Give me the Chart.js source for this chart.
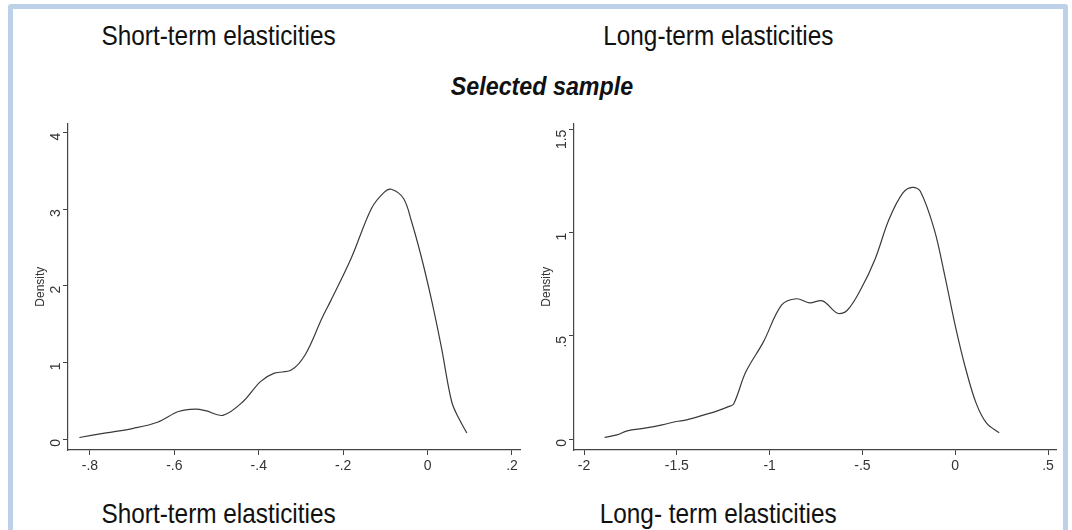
<!DOCTYPE html>
<html>
<head>
<meta charset="utf-8">
<script src="https://cdn.jsdelivr.net/npm/chart.js@4.4.1/dist/chart.umd.min.js"></script>
<style>
  body { margin: 0; width: 1072px; height: 530px; background: #fff; overflow: hidden; position: relative; font-family: "Liberation Sans", Arial, sans-serif; }
  #frame { position: absolute; left: 8px; top: 4px; width: 1050px; height: 540px; border: 5px solid #bcd0e8; border-radius: 3px; background: #fff; }
  .lbl { position: absolute; color: #111; white-space: nowrap; transform-origin: center; }
  .big { font-size: 28px; transform: scaleX(0.87); }
  #sel { font-size: 25px; font-weight: bold; font-style: italic; transform: scaleX(0.93); }
  canvas { position: absolute; }
</style>
</head>
<body>
<div id="frame"></div>
<div class="lbl big" id="t1">Short-term elasticities</div>
<div class="lbl big" id="t2">Long-term elasticities</div>
<div class="lbl" id="sel">Selected sample</div>
<div class="lbl big" id="b1">Short-term elasticities</div>
<div class="lbl big" id="b2">Long- term elasticities</div>
<canvas id="cShort" width="510" height="375" style="left:20px; top:108px;"></canvas>
<canvas id="cLong" width="540" height="375" style="left:526px; top:108px;"></canvas>
<script>
// short-term elasticities: kernel density
var shortX = [-0.825, -0.762, -0.697, -0.64, -0.59, -0.55, -0.526, -0.485, -0.437, -0.396, -0.363, -0.323, -0.29, -0.25, -0.229, -0.181, -0.133, -0.103, -0.086, -0.057, -0.038, -0.014, 0.01, 0.033, 0.057, 0.074, 0.093];
var shortY = [0.02, 0.08, 0.14, 0.22, 0.36, 0.39, 0.37, 0.31, 0.49, 0.75, 0.86, 0.90, 1.10, 1.58, 1.81, 2.36, 3.01, 3.22, 3.26, 3.14, 2.84, 2.36, 1.80, 1.19, 0.49, 0.27, 0.08];
var shortXTicks = [-0.8, -0.6, -0.4, -0.2, 0, 0.2];
var shortYTicks = [0, 1, 2, 3, 4];

// long-term elasticities
var longX = [-1.889, -1.823, -1.767, -1.673, -1.579, -1.504, -1.447, -1.353, -1.278, -1.222, -1.194, -1.128, -1.034, -0.935, -0.855, -0.785, -0.715, -0.634, -0.583, -0.508, -0.432, -0.357, -0.282, -0.23, -0.188, -0.113, -0.056, 0, 0.056, 0.113, 0.169, 0.237];
var longY = [0.008, 0.02, 0.04, 0.053, 0.069, 0.085, 0.093, 0.117, 0.138, 0.157, 0.17, 0.326, 0.47, 0.65, 0.68, 0.66, 0.67, 0.61, 0.623, 0.727, 0.872, 1.064, 1.193, 1.22, 1.201, 1.016, 0.791, 0.55, 0.342, 0.173, 0.077, 0.03];
var longXTicks = [-2, -1.5, -1, -0.5, 0, 0.5];
var longYTicks = [0, 0.5, 1, 1.5];

// place the text labels by their centre
function place(id, cx, cy) {
    var el = document.getElementById(id);
    el.style.left = (cx - el.offsetWidth / 2) + 'px';
    el.style.top = (cy - el.offsetHeight / 2) + 'px';
}
place('t1', 218, 36);
place('t2', 718, 36);
place('sel', 542, 86);
place('b1', 218, 514);
place('b2', 718, 514);

// stata style labels: -.8 instead of -0.8
function fmt(v) {
    var s = String(Math.round(v * 100) / 100);
    return s.replace(/^(-?)0\./, '$1.');
}

function makeChart(id, xs, ys, xTicks, yTicks, xmin, xmax, ymin, ymax) {
    var pts = xs.map(function (x, i) { return { x: x, y: ys[i] }; });
    var ctx = document.getElementById(id).getContext('2d');
    var tickFont = { size: 14, family: 'Liberation Sans' };
    return new Chart(ctx, {
        type: 'line',
        data: {
            datasets: [{
                data: pts,
                borderColor: '#3a3a3a',
                borderWidth: 1.2,
                pointRadius: 0,
                tension: 0.35,
                fill: false
            }]
        },
        options: {
            responsive: false,
            animation: false,
            layout: { padding: { top: 4, right: 10, left: 13, bottom: 0 } },
            plugins: { legend: { display: false }, tooltip: { enabled: false } },
            scales: {
                x: {
                    type: 'linear',
                    min: xmin, max: xmax,
                    afterBuildTicks: function (s) { s.ticks = xTicks.map(function (v) { return { value: v }; }); },
                    afterFit: function (s) { s.height = 33; },
                    grid: { drawOnChartArea: false, tickLength: 5, color: '#444' },
                    border: { color: '#444', width: 1.2 },
                    ticks: { color: '#333', font: tickFont, maxRotation: 0, padding: 3, callback: function (v) { return fmt(v); } }
                },
                y: {
                    min: ymin, max: ymax,
                    afterBuildTicks: function (s) { s.ticks = yTicks.map(function (v) { return { value: v }; }); },
                    afterFit: function (s) { s.width = 35; },
                    grid: { drawOnChartArea: false, tickLength: 5, color: '#444' },
                    border: { color: '#444', width: 1.2 },
                    title: { display: true, text: 'Density', color: '#333', font: { size: 12, family: 'Liberation Sans' }, padding: 0 },
                    ticks: { color: '#333', font: tickFont, minRotation: 90, maxRotation: 90, padding: 7, callback: function (v) { return fmt(v); } }
                }
            }
        }
    });
}

makeChart('cShort', shortX, shortY, shortXTicks, shortYTicks, -0.852, 0.219, -0.143, 4.12);
makeChart('cLong', longX, longY, longXTicks, longYTicks, -2.054, 0.543, -0.053, 1.53);
</script>
</body>
</html>
